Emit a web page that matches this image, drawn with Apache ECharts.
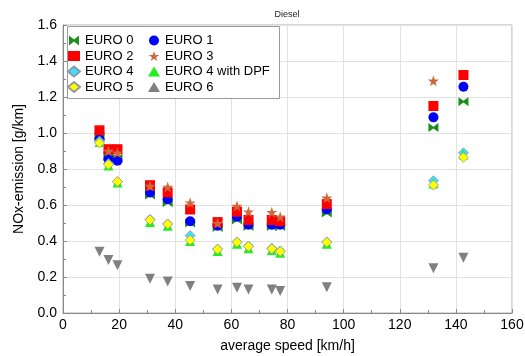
<!DOCTYPE html>
<html><head><meta charset="utf-8">
<script src="https://cdn.jsdelivr.net/npm/echarts@6/dist/echarts.min.js"></script>
<style>html,body{margin:0;padding:0;background:#fff}#c{width:525px;height:356px}</style>
</head><body><div id="c"></div>
<script>
const speeds = [13, 16.2, 19.4, 31, 37.3, 45.3, 55.1, 62, 66.1, 74.4, 77.4, 94, 132, 142.7];
const euro0 = [0.985, 0.87, 0.86, 0.655, 0.613, 0.50, 0.475, 0.517, 0.48, 0.48, 0.48, 0.555, 1.03, 1.174];
const euro1 = [0.965, 0.855, 0.846, 0.67, 0.632, 0.51, 0.485, 0.535, 0.49, 0.49, 0.49, 0.576, 1.087, 1.257];
const euro2 = [1.015, 0.91, 0.91, 0.71, 0.67, 0.575, 0.505, 0.563, 0.517, 0.517, 0.51, 0.605, 1.15, 1.322];
const euro3 = [null, 0.90, 0.89, 0.705, 0.70, 0.613, 0.50, 0.594, 0.563, 0.56, 0.535, 0.64, 1.29, null];
const euro4 = [0.955, 0.83, 0.73, 0.52, 0.495, 0.43, 0.355, 0.395, 0.372, 0.36, 0.345, 0.395, 0.735, 0.89];
const euro4dpf = [0.95, 0.82, 0.725, 0.505, 0.485, 0.40, 0.345, 0.385, 0.36, 0.35, 0.335, 0.385, 0.72, 0.88];
const euro5 = [0.945, 0.825, 0.73, 0.517, 0.494, 0.405, 0.354, 0.393, 0.37, 0.357, 0.342, 0.393, 0.711, 0.865];
const euro6 = [0.34, 0.295, 0.265, 0.19, 0.175, 0.15, 0.13, 0.14, 0.13, 0.13, 0.122, 0.143, 0.248, 0.307];
const names = ['EURO 0','EURO 1','EURO 2','EURO 3','EURO 4','EURO 4 with DPF','EURO 5','EURO 6'];

function pts(arr){ return speeds.map((s,i)=>[s,arr[i]]).filter(p=>p[1]!==null); }
const FONT = 'Liberation Sans, Arial, sans-serif';
const styles = [
  {symbol:'path://M0,0L5,4L10,0L10,10L5,6L0,10Z', size:[10,9], color:'#1e8c1e'},
  {symbol:'circle', size:10, color:'#0000ff'},
  {symbol:'rect', size:10, color:'#ff0000'},
  {symbol:'path://M50,0L61.8,35.1L98.1,35.1L68.8,56.8L79.4,90.5L50,70L20.6,90.5L31.2,56.8L1.9,35.1L38.2,35.1Z', size:11, color:'#cc6a3c'},
  {symbol:'diamond', size:10, color:'#3fe0ff', border:'#8899aa'},
  {symbol:'triangle', size:10, color:'#22ee22'},
  {symbol:'diamond', size:10, color:'#ffff00', border:'#999999'},
  {symbol:'triangle', size:10, color:'#808080', rotate:180}
];
const datas = [euro0, euro1, euro2, euro3, euro4, euro4dpf, euro5, euro6];
const series = names.map((n,i)=>({
  name:n, type:'scatter', data:pts(datas[i]),
  symbol:styles[i].symbol, symbolSize:styles[i].size, symbolRotate:styles[i].rotate||0,
  itemStyle:{color:styles[i].color, borderColor:styles[i].border||styles[i].color, borderWidth:styles[i].border?0.8:0, opacity:1},
  emphasis:{disabled:true}, animation:false
}));
const legendCommon = {orient:'vertical', top:34, padding:0, itemWidth:12, itemHeight:10, itemGap:2.5,
  textStyle:{fontSize:13, color:'#000', fontFamily:FONT}, z:5, selectedMode:false};
const chart = echarts.init(document.getElementById('c'), null, {renderer:'canvas'});
chart.setOption({
  animation:false,
  backgroundColor:'#fff',
  title:{text:'Diesel', left:282, top:5, textAlign:'center', textStyle:{fontSize:9, fontWeight:'normal', color:'#222', fontFamily:FONT}},
  grid:{left:63, right:13, top:25, bottom:43, show:true, borderColor:'#b0b0b0', borderWidth:1, outerBoundsMode:'none', containLabel:false},
  graphic:[{type:'rect', shape:{x:67.5, y:26.5, width:212, height:72}, style:{fill:'#fff', stroke:'#999', lineWidth:1}, z:1}],
  legend:[
    Object.assign({data:names.filter((_,i)=>i%2===0), left:67}, legendCommon),
    Object.assign({data:names.filter((_,i)=>i%2===1), left:148}, legendCommon)
  ],
  xAxis:{type:'value', min:0, max:160, interval:20,
    name:'average speed [km/h]', nameLocation:'middle', nameGap:26,
    nameTextStyle:{fontSize:14, color:'#000', fontFamily:FONT},
    axisLine:{show:true, lineStyle:{color:'#888'}},
    axisTick:{show:true, inside:true, length:4, lineStyle:{color:'#888'}},
    minorTick:{show:true, splitNumber:2, length:3, lineStyle:{color:'#888'}},
    axisLabel:{fontSize:14, color:'#000', fontFamily:FONT, margin:5},
    splitLine:{show:true, lineStyle:{color:'#e2e2e2'}}},
  yAxis:{type:'value', min:0, max:1.6, interval:0.2,
    name:'NOx-emission [g/km]', nameLocation:'middle', nameGap:27, nameRotate:90,
    nameTextStyle:{fontSize:14, color:'#000', fontFamily:FONT},
    axisLine:{show:true, lineStyle:{color:'#888'}},
    axisTick:{show:true, inside:true, length:4, lineStyle:{color:'#888'}},
    minorTick:{show:true, splitNumber:2, length:3, lineStyle:{color:'#888'}},
    axisLabel:{fontSize:14, color:'#000', fontFamily:FONT, margin:6, formatter:v=>v.toFixed(1)},
    splitLine:{show:true, lineStyle:{color:'#e2e2e2'}}},
  series:series
});
</script></body></html>
